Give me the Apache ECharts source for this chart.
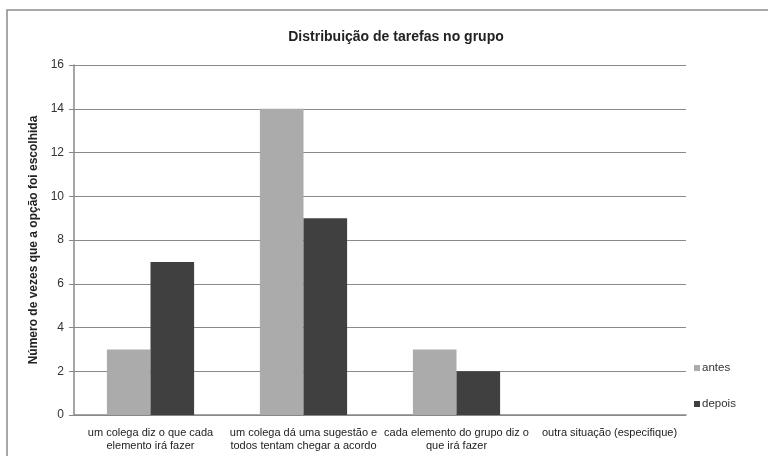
<!DOCTYPE html>
<html>
<head>
<meta charset="utf-8">
<script src="https://cdn.jsdelivr.net/npm/echarts@6/dist/echarts.min.js"></script>
<style>
  html, body { margin: 0; padding: 0; background: #fff; }
  #chart { width: 768px; height: 456px; }
</style>
</head>
<body>
<div id="chart"></div>
<script>
// Tarefas: quem decide a distribuição de tarefas no grupo
const categories = [
  'um colega diz o que cada\nelemento irá fazer',
  'um colega dá uma sugestão e\ntodos tentam chegar a acordo',
  'cada elemento do grupo diz o\nque irá fazer',
  'outra situação (especifique)'
];
const antes = [3, 14, 3, 0];
const depois = [7, 9, 2, 0];
const yTicks = { min: 0, max: 16, step: 2 };

const FONT = '"Liberation Sans Narrow", "Arial Narrow", "Liberation Sans", Arial, sans-serif';

const chart = echarts.init(document.getElementById('chart'), null, { renderer: 'canvas' });
chart.setOption({
  backgroundColor: '#ffffff',
  animation: false,
  graphic: [{
    type: 'rect',
    shape: { x: 7, y: 10, width: 800, height: 500 },
    style: { fill: 'none', stroke: '#8c8c8c', lineWidth: 1.5 },
    silent: true
  }],
  title: {
    text: 'Distribuição de tarefas no grupo',
    left: 391, top: 25, textAlign: 'center',
    textStyle: { fontFamily: FONT, fontSize: 14, fontWeight: 'bold', color: '#222' }
  },
  legend: {
    orient: 'vertical',
    left: 689, top: 357,
    itemWidth: 6, itemHeight: 6, itemGap: 24,
    icon: 'rect',
    textStyle: { fontFamily: FONT, fontSize: 11.5, color: '#333', padding: [0, 0, 0, -3] },
    data: ['antes', 'depois']
  },
  grid: { left: 74, top: 65, width: 612, height: 350, containLabel: false },
  xAxis: {
    type: 'category',
    data: categories,
    axisLine: { lineStyle: { color: '#888', width: 1.5 } },
    axisTick: { show: false },
    axisLabel: {
      interval: 0, margin: 11,
      fontFamily: FONT, fontSize: 11, color: '#222', lineHeight: 13
    }
  },
  yAxis: {
    type: 'value',
    min: yTicks.min, max: yTicks.max, interval: yTicks.step,
    name: 'Número de vezes que a opção foi escolhida',
    nameLocation: 'middle', nameGap: 30, nameRotate: 90,
    nameTextStyle: { fontFamily: FONT, fontSize: 12, fontWeight: 'bold', color: '#222' },
    axisLine: { show: true, lineStyle: { color: '#888', width: 1.5 } },
    axisTick: { show: true, length: 5, lineStyle: { color: '#888' } },
    axisLabel: { fontFamily: FONT, fontSize: 12, color: '#333', margin: 10 },
    splitLine: { lineStyle: { color: '#8a8a8a', width: 1.2 } }
  },
  series: [
    {
      name: 'antes', type: 'bar', data: antes,
      barGap: '0%', barCategoryGap: '43%',
      itemStyle: { color: '#ababab' }
    },
    {
      name: 'depois', type: 'bar', data: depois,
      itemStyle: { color: '#404040' }
    }
  ]
});
</script>
</body>
</html>
